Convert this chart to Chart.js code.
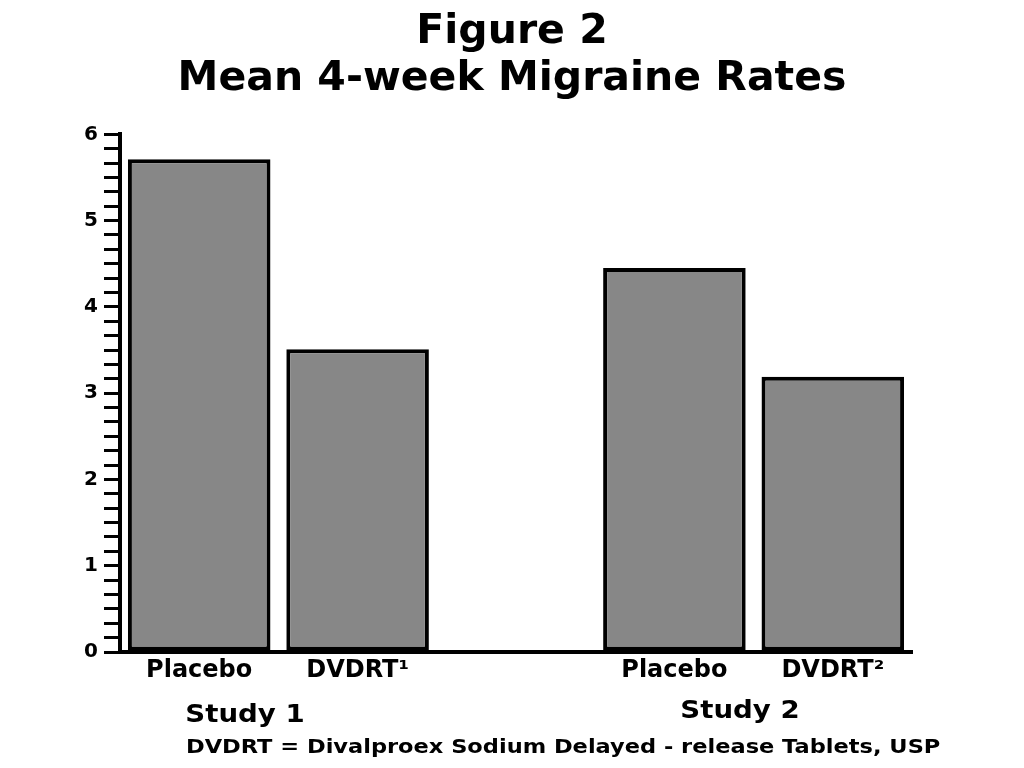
<!DOCTYPE html>
<html>
<head>
<meta charset="utf-8">
<script src="https://cdn.jsdelivr.net/npm/chart.js@4"></script>
<style>
  html, body { margin: 0; padding: 0; background: #fff; }
  #wrap { width: 1024px; height: 768px; }
</style>
</head>
<body>
<div id="wrap"><canvas id="migraineChart" width="1024" height="768"></canvas></div>
<script>
const categories = ["Placebo", "DVDRT\u00B9", "", "Placebo", "DVDRT\u00B2"];
const rates = [5.71, 3.51, null, 4.45, 3.19];
const yTicks = [0, 1, 2, 3, 4, 5, 6];
const titleLines = ["Figure 2", "Mean 4-week Migraine Rates"];
const studyLabels = ["Study 1", "Study 2"];
const footnote = "DVDRT = Divalproex Sodium Delayed - release Tablets, USP";

const FONT = "'DejaVu Sans', 'Liberation Sans', sans-serif";

// text drawn a bit wider than the font, like the scanned figure
function wideText(ctx, text, x, y, size, stretch, align) {
  ctx.font = "bold " + size + "px " + FONT;
  const w = ctx.measureText(text).width * stretch;
  let left = x;
  if (align === "center") left = x - w / 2;
  ctx.save();
  ctx.translate(left, y);
  ctx.scale(stretch, 1);
  ctx.textAlign = "left";
  ctx.fillText(text, 0, 0);
  ctx.restore();
}

const notesPlugin = {
  id: "notes",
  afterDraw(chart) {
    const ctx = chart.ctx;
    ctx.save();
    ctx.fillStyle = "#000";
    ctx.textBaseline = "middle";
    wideText(ctx, studyLabels[0], 245, 716, 24, 1.15, "center");
    wideText(ctx, studyLabels[1], 740, 712, 24, 1.15, "center");
    wideText(ctx, footnote, 186, 748, 20, 1.125, "left");
    ctx.restore();
  }
};

new Chart(document.getElementById("migraineChart"), {
  type: "bar",
  data: {
    labels: categories,
    datasets: [{
      data: rates,
      backgroundColor: "#878787",
      borderColor: "#000",
      borderWidth: 4,
      borderSkipped: false,
      barPercentage: 0.9,
      categoryPercentage: 1
    }]
  },
  options: {
    responsive: false,
    animation: false,
    layout: { padding: 0 },
    plugins: {
      legend: { display: false },
      tooltip: { enabled: false },
      title: {
        display: true,
        text: titleLines,
        color: "#000",
        font: { family: FONT, size: 41, weight: "bold", lineHeight: 1.15 },
        padding: { top: 9, bottom: 31 }
      }
    },
    scales: {
      x: {
        grid: { display: false, drawTicks: false },
        border: { display: true, color: "#000", width: 4 },
        ticks: {
          color: "#000",
          padding: 4,
          maxRotation: 0,
          font: { family: FONT, size: 24, weight: "bold" }
        },
        afterFit(s) { s.height = 116; }
      },
      y: {
        min: 0,
        max: 6,
        grid: {
          drawOnChartArea: false,
          drawTicks: true,
          tickLength: 16,
          color: "#000",
          lineWidth: 3
        },
        border: { display: true, color: "#000", width: 4 },
        ticks: {
          stepSize: 1 / 6,
          autoSkip: false,
          padding: 6,
          color: "#000",
          font: { family: FONT, size: 20, weight: "bold" },
          callback(v) {
            const r = Math.round(v);
            return Math.abs(v - r) < 1e-6 && yTicks.includes(r) ? String(r) : "";
          }
        },
        afterFit(s) { s.width = 120; }
      },
      // empty right-hand axis, only keeps space on the right
      yRight: {
        position: "right",
        display: true,
        grid: { display: false, drawTicks: false },
        border: { display: false },
        ticks: { display: false },
        afterFit(s) { s.width = 112; }
      }
    }
  },
  plugins: [notesPlugin]
});
</script>
</body>
</html>
